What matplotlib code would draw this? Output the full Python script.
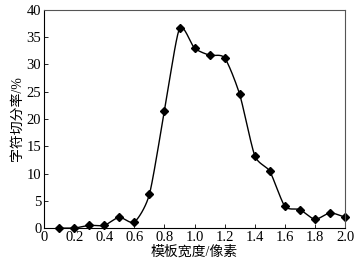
import numpy as np
import matplotlib
matplotlib.use("Agg")
import matplotlib.pyplot as plt

# template width (pixels) vs. character segmentation rate (%)
widths = [0.1, 0.2, 0.3, 0.4, 0.5, 0.6, 0.7, 0.8, 0.9, 1.0,
          1.1, 1.2, 1.3, 1.4, 1.5, 1.6, 1.7, 1.8, 1.9, 2.0]
rates = [0.0, 0.0, 0.5, 0.5, 2.0, 1.1, 6.2, 21.5, 36.6, 33.0,
         31.7, 31.2, 24.5, 13.3, 10.4, 4.0, 3.4, 1.6, 2.8, 2.0]
xticks = [0, 0.2, 0.4, 0.6, 0.8, 1.0, 1.2, 1.4, 1.6, 1.8, 2.0]
xticklabels = ["0", "0.2", "0.4", "0.6", "0.8", "1.0", "1.2", "1.4", "1.6", "1.8", "2.0"]
yticks = [0, 5, 10, 15, 20, 25, 30, 35, 40]

plt.rcParams["font.family"] = ["Liberation Serif", "Noto Sans CJK SC"]
plt.rcParams["font.size"] = 10


def smooth(x, y, n=20, k=0.35):
    # cardinal spline through the points, just for drawing the line
    x = np.asarray(x, float)
    y = np.asarray(y, float)
    px = np.concatenate([[2 * x[0] - x[1]], x, [2 * x[-1] - x[-2]]])
    py = np.concatenate([[2 * y[0] - y[1]], y, [2 * y[-1] - y[-2]]])
    t = np.linspace(0, 1, n, endpoint=False)
    h00 = 2 * t ** 3 - 3 * t ** 2 + 1
    h10 = t ** 3 - 2 * t ** 2 + t
    h01 = -2 * t ** 3 + 3 * t ** 2
    h11 = t ** 3 - t ** 2
    xs, ys = [], []
    for i in range(1, len(px) - 2):
        for p, out in ((px, xs), (py, ys)):
            m1 = k * (p[i + 1] - p[i - 1])
            m2 = k * (p[i + 2] - p[i])
            out.append(h00 * p[i] + h10 * m1 + h01 * p[i + 1] + h11 * m2)
    xs.append([x[-1]])
    ys.append([y[-1]])
    return np.concatenate(xs), np.concatenate(ys)


fig = plt.figure(figsize=(3.64, 2.69), dpi=100)
ax = fig.add_axes([0.121, 0.152, 0.827, 0.811])

sx, sy = smooth(widths, rates)
ax.plot(sx, sy, color="black", lw=1.0)
ax.plot(widths, rates, "D", color="black", ms=4.5, clip_on=False)

ax.set_xlim(0, 2.0)
ax.set_ylim(0, 40)
ax.set_xticks(xticks)
ax.set_xticklabels(xticklabels)
ax.set_yticks(yticks)
ax.tick_params(direction="in", length=3, width=0.6, labelsize=10.5, pad=2)
for s in ax.spines.values():
    s.set_linewidth(0.8)
    s.set_color("#555555")
ax.spines["left"].set_color("black")
ax.spines["bottom"].set_color("black")

ax.set_xlabel("模板宽度/像素", fontsize=10, labelpad=1)
ax.set_ylabel("字符切分率/%", fontsize=10, labelpad=2)

fig.savefig("out.png", dpi=100)
